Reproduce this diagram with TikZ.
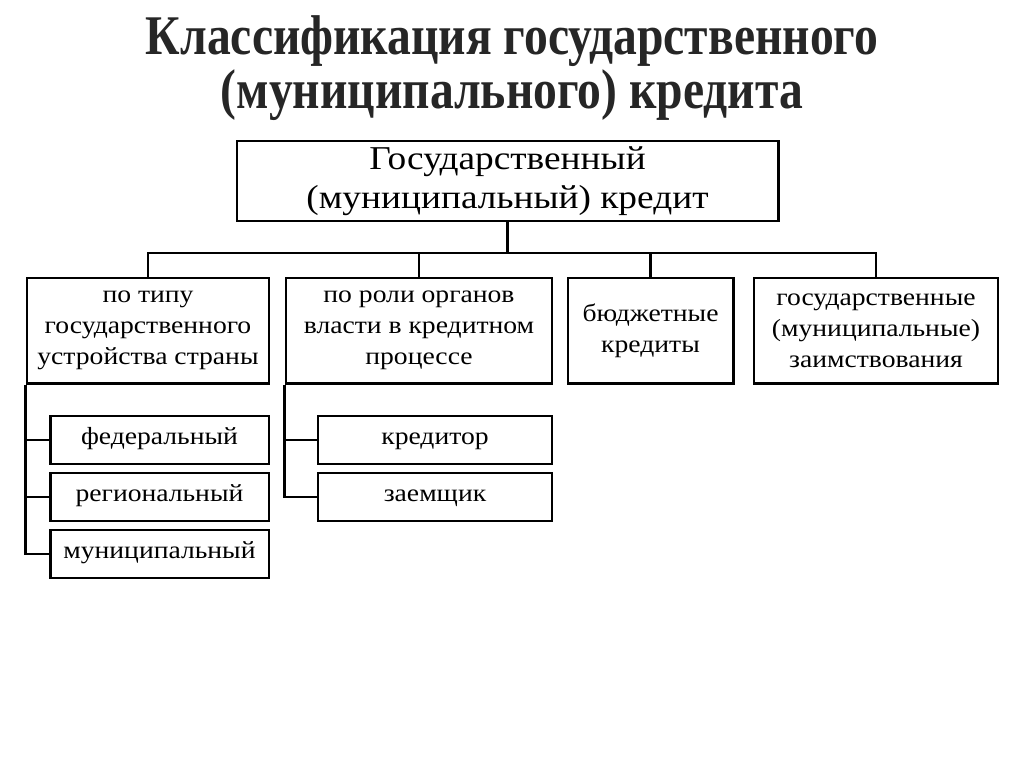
\documentclass[tikz,border=0pt]{standalone}
\usepackage{fontspec}
\setmainfont{Liberation Serif}[FakeStretch=1.12]
\newfontfamily\titlefont{Liberation Serif}[FakeStretch=0.85]
\usetikzlibrary{positioning}
\tikzset{
  box/.style={draw,line width=2pt,align=center,inner sep=0pt,
    font=\fontsize{18.5}{23.25}\selectfont},
  subbox/.style={draw,line width=2pt,inner sep=0pt,minimum height=36pt,
    font=\fontsize{18.5}{23.25}\selectfont,text height=0.75em,text depth=0.1em},
  link/.style={line width=2pt}
}
\begin{document}
\begin{tikzpicture}[x=0.75pt,y=-0.75pt]
\useasboundingbox[fill=white] (0,0) rectangle (1024,767);
% title
\node[font=\titlefont\fontsize{42}{41}\selectfont\bfseries,text=black!85,align=center] (title) at (512,68)
  {Классификация государственного\\(муниципального) кредита};
% top level
\node[box,minimum width=406pt,minimum height=60pt,font=\fontsize{25}{29}\selectfont] (main) at (507.5,181)
  {Государственный\\(муниципальный) кредит};
\node[box,minimum width=181.5pt,minimum height=79pt] (type) at (148,330.5)
  {по типу\\государственного\\устройства страны};
\node[box,minimum width=199.5pt,minimum height=79pt] (role) at (419,330.5)
  {по роли органов\\власти в кредитном\\процессе};
\node[box,minimum width=124pt,minimum height=79pt] (budget) at (650.5,330.5)
  {бюджетные\\кредиты};
\node[box,minimum width=183pt,minimum height=79pt] (borrow) at (876,330.5)
  {государственные\\(муниципальные)\\заимствования};
% sub levels
\node[subbox,minimum width=164pt] (fed) at (159.5,440) {федеральный};
\node[subbox,minimum width=164pt] (reg) at (159.5,497) {региональный};
\node[subbox,minimum width=164pt] (mun) at (159.5,554) {муниципальный};
\node[subbox,minimum width=175.5pt] (cred) at (435,440) {кредитор};
\node[subbox,minimum width=175.5pt] (debt) at (435,497) {заемщик};
% connectors
\coordinate (bar) at (507.5,253);
\draw[link] (main.south) -- (bar);
\draw[link] (type.north) |- (bar) -| (borrow.north);
\draw[link] (role.north) -- (role.north |- bar);
\draw[link] (budget.north) -- (budget.north |- bar);
\draw[link] (type.south west) |- (mun.west);
\draw[link] (fed.west) -- (fed.west -| type.west);
\draw[link] (reg.west) -- (reg.west -| type.west);
\draw[link] (role.south west) |- (debt.west);
\draw[link] (cred.west) -- (cred.west -| role.west);
\end{tikzpicture}
\end{document}
